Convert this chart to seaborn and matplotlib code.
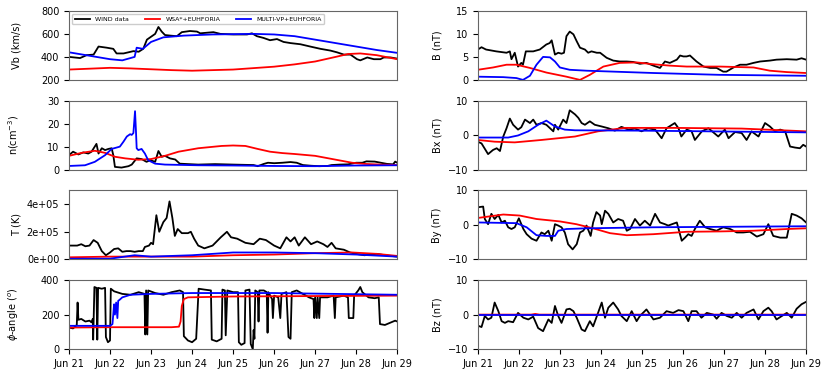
import numpy as np
import pandas as pd
import matplotlib
matplotlib.use("Agg")
import matplotlib.pyplot as plt
import matplotlib.dates as mdates
from matplotlib.ticker import FuncFormatter
import seaborn as sns

# --- DATA (t = days since Jun 21) ---
START = pd.Timestamp("2020-06-21")

# Vb (km/s)
vb_wind_t = [0, 0.27, 0.43, 0.6, 0.72, 0.92, 1.08, 1.16, 1.33, 1.45, 1.57, 1.7, 1.81, 1.9, 2.06, 2.1, 2.18,
             2.26, 2.34, 2.47, 2.63, 2.75, 2.95, 3.12, 3.2, 3.36, 3.52, 3.69, 4.01, 4.34, 4.46, 4.58, 4.74,
             4.9, 5.07, 5.23, 5.4, 5.64, 5.88, 6.13, 6.37, 6.53, 6.7, 6.86, 7.02, 7.1, 7.27, 7.43, 7.59,
             7.67, 7.84, 8.0]
vb_wind = [400, 390, 415, 420, 490, 480, 470, 430, 430, 440, 450, 445, 470, 550, 590, 600, 660,
           620, 590, 585, 580, 615, 625, 620, 605, 610, 615, 600, 595, 595, 605, 580, 565,
           545, 555, 530, 520, 510, 490, 470, 455, 440, 420, 420, 380, 370, 395, 380, 380,
           395, 395, 385]
vb_wsa_t = [0, 1.0, 1.5, 2.5, 3.0, 4.0, 5.0, 5.5, 6.0, 6.5, 6.8, 7.1, 7.5, 8.0]
vb_wsa = [290, 305, 300, 285, 280, 290, 315, 335, 360, 400, 425, 430, 415, 380]
vb_mvp_t = [0, 0.5, 1.0, 1.3, 1.6, 1.65, 1.8, 2.0, 2.3, 2.8, 3.5, 4.5, 5.0, 5.5, 6.0, 6.5, 7.0, 7.5, 8.0]
vb_mvp = [440, 410, 380, 370, 400, 480, 470, 530, 570, 585, 595, 600, 595, 580, 550, 520, 490, 460, 435]

# n (cm^-3)
n_wind_t = [0, 0.1, 0.23, 0.35, 0.47, 0.55, 0.67, 0.72, 0.8, 0.88, 0.96, 1.04, 1.08, 1.12, 1.28, 1.45,
            1.53, 1.65, 1.77, 1.89, 1.98, 2.1, 2.18, 2.26, 2.34, 2.46, 2.59, 2.7, 2.91, 3.15, 3.56, 4.0,
            4.5, 4.6, 4.75, 4.85, 5.0, 5.2, 5.4, 5.55, 5.7, 5.9, 6.1, 6.3, 6.4, 6.6, 6.8, 7.0, 7.15,
            7.25, 7.45, 7.6, 7.75, 7.9, 7.95, 8.0]
n_wind = [6.3, 7.8, 6.6, 7.5, 7.0, 7.8, 11.2, 7.0, 9.3, 8.5, 9.0, 9.3, 6.3, 1.2, 0.9, 1.5,
          2.2, 4.9, 4.6, 3.4, 4.1, 3.4, 8.1, 5.6, 6.0, 4.9, 4.4, 2.6, 2.4, 2.2, 2.4, 2.2,
          2.0, 1.5, 2.5, 3.0, 2.8, 3.0, 3.3, 3.0, 2.0, 1.7, 1.5, 1.6, 2.0, 2.2, 2.3, 3.0, 3.0,
          3.6, 3.5, 3.0, 2.5, 2.3, 3.5, 3.0]
n_wsa_t = [0, 0.31, 0.63, 0.88, 1.12, 1.37, 1.69, 2.0, 2.34, 2.67, 3.15, 3.72, 4.0, 4.3, 4.6, 4.9, 5.2,
           5.5, 6.0, 6.3, 6.6, 6.9, 7.2, 7.6, 8.0]
n_wsa = [6.0, 7.3, 8.2, 7.3, 5.6, 4.9, 4.3, 4.6, 6.0, 7.8, 9.3, 10.3, 10.5, 10.3, 9.0, 7.8, 7.2,
         6.8, 6.0, 5.0, 4.0, 3.0, 2.5, 2.2, 2.0]
n_mvp_t = [0, 0.39, 0.63, 0.88, 1.04, 1.16, 1.24, 1.33, 1.41, 1.49, 1.53, 1.57, 1.61, 1.633, 1.65,
           1.69, 1.77, 1.85, 1.93, 2.1, 2.34, 3.15, 4.0, 5.0, 6.0, 7.0, 8.0]
n_mvp = [1.6, 1.9, 3.4, 6.3, 9.0, 9.6, 10.0, 12.2, 14.4, 15.4, 15.1, 15.9, 25.4, 16.6, 9.3,
         8.5, 9.0, 7.0, 4.1, 2.6, 2.2, 1.9, 1.8, 1.6, 1.5, 1.8, 1.9]

# T (K)
T_wind_t = [0, 0.2, 0.3, 0.4, 0.5, 0.6, 0.7, 0.8, 0.9, 1.0, 1.1, 1.2, 1.3, 1.4, 1.5, 1.6, 1.7, 1.8,
            1.85, 1.95, 2.0, 2.05, 2.13, 2.2, 2.3, 2.38, 2.45, 2.52, 2.58, 2.65, 2.75, 2.9, 2.97,
            3.05, 3.15, 3.3, 3.5, 3.7, 3.85, 3.95, 4.1, 4.3, 4.5, 4.65, 4.8, 5.0, 5.15, 5.3, 5.4,
            5.5, 5.6, 5.75, 5.9, 6.05, 6.2, 6.3, 6.4, 6.5, 6.7, 6.85, 7.0, 7.2, 7.5, 7.7, 8.0]
T_wind = [1.0e5, 1.0e5, 1.1e5, 0.95e5, 1.0e5, 1.4e5, 1.2e5, 0.6e5, 0.3e5, 0.5e5, 0.75e5, 0.8e5,
          0.55e5, 0.6e5, 0.6e5, 0.55e5, 0.6e5, 0.6e5, 0.9e5, 1.0e5, 1.2e5, 1.1e5, 3.2e5, 2.0e5,
          2.7e5, 3.0e5, 4.2e5, 3.0e5, 1.7e5, 2.2e5, 1.9e5, 1.9e5, 2.0e5, 1.5e5, 1.0e5, 0.8e5,
          1.0e5, 1.6e5, 2.0e5, 1.6e5, 1.5e5, 1.2e5, 1.1e5, 1.5e5, 1.4e5, 1.0e5, 0.8e5, 1.6e5,
          1.3e5, 1.6e5, 1.0e5, 1.6e5, 1.1e5, 1.3e5, 1.1e5, 0.9e5, 1.2e5, 0.8e5, 0.7e5, 0.5e5,
          0.4e5, 0.3e5, 0.4e5, 0.3e5, 0.2e5]
T_wsa_t = [0, 1.0, 2.0, 3.0, 4.0, 5.0, 6.0, 6.9, 7.5, 8.0]
T_wsa = [0.15e5, 0.2e5, 0.2e5, 0.2e5, 0.3e5, 0.35e5, 0.45e5, 0.5e5, 0.4e5, 0.25e5]
T_mvp_t = [0, 1.0, 1.6, 2.0, 3.0, 4.0, 5.0, 6.0, 7.0, 8.0]
T_mvp = [0.05e5, 0.05e5, 0.3e5, 0.2e5, 0.3e5, 0.5e5, 0.5e5, 0.45e5, 0.35e5, 0.2e5]

# phi-angle (deg)
phi_wind_t = [0.0, 0.1, 0.19, 0.21, 0.23, 0.3, 0.4, 0.5, 0.55, 0.58, 0.59, 0.62, 0.67, 0.69, 0.71, 0.8,
              0.88, 0.9, 0.95, 1.0, 1.02, 1.1, 1.3, 1.5, 1.7, 1.84, 1.86, 1.88, 1.91, 1.93, 2.1, 2.3,
              2.5, 2.7, 2.78, 2.8, 2.9, 3.0, 3.1, 3.16, 3.3, 3.46, 3.48, 3.6, 3.72, 3.74, 3.8, 3.82,
              3.86, 4.0, 4.12, 4.14, 4.2, 4.28, 4.3, 4.4, 4.43, 4.48, 4.5, 4.52, 4.54, 4.6, 4.62,
              4.64, 4.75, 4.82, 4.84, 4.86, 4.95, 4.97, 5.0, 5.1, 5.15, 5.18, 5.3, 5.35, 5.4, 5.43,
              5.55, 5.7, 5.85, 5.96, 5.98, 6.0, 6.04, 6.06, 6.1, 6.12, 6.3, 6.45, 6.48, 6.5, 6.7,
              6.8, 6.82, 6.93, 6.95, 7.05, 7.1, 7.15, 7.3, 7.45, 7.55, 7.58, 7.7, 7.85, 7.95, 8.0]
phi_wind = [125, 120, 140, 270, 170, 175, 160, 165, 155, 175, 55, 360, 355, 55, 355, 350,
            355, 70, 40, 50, 350, 335, 320, 315, 330, 320, 85, 340, 85, 340, 325, 315,
            330, 340, 330, 75, 50, 40, 60, 350, 345, 340, 55, 45, 60, 345, 340, 80,
            340, 330, 330, 40, 25, 35, 340, 345, 30, 0, 110, 60, 340, 330, 160,
            340, 340, 330, 95, 330, 290, 180, 310, 300, 180, 320, 330, 70, 60, 330,
            340, 320, 300, 290, 180, 300, 180, 300, 180, 300, 300, 310, 180, 300, 310,
            300, 180, 180, 310, 340, 360, 330, 300, 295, 300, 145, 140, 155, 165, 160]
phi_wsa_t = [0, 1.0, 2.5, 2.68, 2.72, 2.75, 2.8, 2.9, 4.0, 8.0]
phi_wsa = [125, 127, 127, 130, 160, 250, 290, 300, 305, 310]
phi_mvp_t = [0, 1.0, 1.06, 1.1, 1.12, 1.15, 1.18, 1.2, 1.23, 1.3, 1.5, 2.0, 3.0, 5.0, 8.0]
phi_mvp = [135, 135, 145, 260, 200, 270, 180, 280, 285, 300, 315, 320, 325, 325, 315]

# B (nT)
B_wind_t = [0, 0.09, 0.2, 0.45, 0.7, 0.78, 0.82, 0.9, 0.98, 1.06, 1.1, 1.17, 1.35, 1.51, 1.67, 1.75,
            1.8, 1.88, 1.96, 2.04, 2.1, 2.16, 2.24, 2.33, 2.41, 2.49, 2.61, 2.69, 2.77, 2.9, 2.98,
            3.14, 3.3, 3.46, 3.63, 3.79, 3.95, 4.11, 4.28, 4.44, 4.56, 4.68, 4.85, 4.93, 5.01,
            5.09, 5.17, 5.33, 5.5, 5.66, 5.82, 5.98, 6.06, 6.23, 6.39, 6.55, 6.72, 6.88, 7.12,
            7.28, 7.53, 7.77, 7.89, 8.0]
B_wind = [6.6, 7.1, 6.6, 6.2, 5.9, 6.2, 4.5, 5.9, 2.9, 3.7, 3.3, 6.2, 6.2, 6.6, 7.7, 8.0,
          8.6, 5.5, 5.9, 5.7, 5.9, 9.5, 10.5, 9.9, 8.4, 7.0, 6.6, 5.9, 6.2, 5.9, 5.9,
          4.8, 4.2, 4.0, 4.0, 3.9, 3.5, 3.7, 3.1, 2.6, 4.0, 3.7, 4.4, 5.3, 5.1,
          5.1, 5.3, 4.0, 2.9, 2.6, 2.6, 1.8, 1.8, 2.7, 3.3, 3.3, 3.7, 4.0, 4.2,
          4.4, 4.5, 4.4, 4.7, 4.4]
B_wsa_t = [0, 0.37, 0.7, 0.94, 1.27, 1.67, 2.16, 2.49, 2.73, 3.06, 3.46, 3.87, 4.28, 4.68, 5.09,
           5.9, 6.72, 7.12, 7.53, 8.0]
B_wsa = [2.2, 2.7, 3.3, 3.3, 2.6, 1.6, 0.7, 0.0, 1.1, 2.9, 3.7, 3.8, 3.4, 3.1, 2.9,
         2.9, 2.7, 2.0, 1.7, 1.5]
B_mvp_t = [0, 0.62, 0.94, 1.1, 1.27, 1.43, 1.59, 1.76, 1.88, 2.0, 2.24, 2.65, 4.28, 5.9, 8.0]
B_mvp = [0.7, 0.6, 0.4, 0.0, 0.9, 3.3, 5.0, 4.9, 4.0, 2.7, 2.2, 2.0, 1.5, 1.1, 0.9]

# Bx (nT)
Bx_wind_t = [0, 0.09, 0.25, 0.37, 0.46, 0.54, 0.62, 0.7, 0.78, 0.86, 0.98, 1.06, 1.15, 1.27, 1.35,
             1.43, 1.55, 1.67, 1.84, 1.88, 1.96, 2.08, 2.16, 2.24, 2.37, 2.45, 2.53, 2.61, 2.73,
             2.85, 3.02, 3.18, 3.34, 3.5, 3.67, 3.83, 3.99, 4.15, 4.32, 4.48, 4.6, 4.8, 4.89, 4.96,
             5.09, 5.21, 5.29, 5.46, 5.62, 5.86, 6.02, 6.11, 6.27, 6.43, 6.55, 6.67, 6.84, 7.0,
             7.12, 7.24, 7.37, 7.49, 7.61, 7.73, 7.85, 7.93, 8.0]
Bx_wind = [-1.9, -2.4, -5.5, -4.3, -3.8, -4.6, -0.4, 2.0, 4.8, 3.0, 1.6, 2.3, 4.5, 3.5, 4.5,
           3.0, 3.5, 3.0, 1.1, 3.0, 1.6, 4.5, 3.5, 7.2, 6.0, 5.0, 3.5, 3.0, 4.0,
           3.0, 2.5, 2.0, 1.3, 2.4, 1.6, 1.9, 1.1, 2.0, 1.6, -0.9, 2.0, 3.5, 2.0, -0.4,
           1.6, 1.1, -1.4, 1.1, 2.0, -0.4, 1.6, -0.9, 0.9, 0.6, -1.4, 1.1, -0.4, 3.5,
           2.5, 1.1, 1.6, 1.1, -3.3, -3.6, -3.8, -2.8, -3.3]
Bx_wsa_t = [0, 0.41, 0.9, 1.55, 2.37, 2.93, 3.59, 4.8, 6.43, 8.0]
Bx_wsa = [-1.4, -1.9, -2.1, -1.4, -0.4, 1.1, 2.1, 2.1, 1.9, 1.1]
Bx_mvp_t = [0, 0.74, 0.98, 1.23, 1.47, 1.67, 1.88, 2.12, 2.37, 4.0, 8.0]
Bx_mvp = [-0.7, -0.7, -0.1, 1.1, 3.0, 4.2, 2.5, 1.6, 1.4, 1.3, 0.8]

# By (nT)
By_wind_t = [0, 0.13, 0.17, 0.25, 0.33, 0.41, 0.5, 0.58, 0.66, 0.74, 0.82, 0.9, 1.0, 1.11, 1.19,
             1.31, 1.43, 1.55, 1.63, 1.72, 1.8, 1.88, 1.96, 2.04, 2.12, 2.2, 2.31, 2.41, 2.49,
             2.57, 2.65, 2.75, 2.81, 2.89, 2.98, 3.02, 3.1, 3.18, 3.3, 3.42, 3.54, 3.63, 3.71,
             3.83, 3.95, 4.07, 4.2, 4.32, 4.44, 4.56, 4.64, 4.85, 4.97, 5.05, 5.13, 5.21, 5.29,
             5.41, 5.54, 5.66, 5.82, 5.98, 6.15, 6.31, 6.47, 6.63, 6.8, 6.96, 7.08, 7.2, 7.37,
             7.53, 7.65, 7.77, 7.89, 8.0]
By_wind = [5.1, 5.3, 1.7, 0.2, 3.2, 1.7, 2.9, 0.7, 1.2, -0.7, -1.2, -0.7, 1.9, -1.2, -2.7,
           -4.0, -4.6, -2.2, -2.7, -1.7, -4.6, 0.2, -0.2, -0.7, -2.2, -5.6, -7.1, -5.6, -2.2,
           -1.7, -0.2, -3.2, 0.7, 3.7, 2.7, 0.2, 4.1, 3.2, 0.7, 1.7, 1.2, -1.7, -1.2,
           1.7, -0.2, 1.2, -0.2, 3.2, 0.7, 0.2, -0.2, 0.7, -4.6, -3.7, -2.7, -3.2, -1.2,
           1.2, -0.7, -1.2, -1.7, -0.7, -1.2, -2.2, -2.2, -2.0, -3.4, -2.7, 0.2, -3.2, -3.7,
           -3.7, 3.2, 2.7, 1.9, 0.7]
By_wsa_t = [0, 0.62, 1.02, 1.43, 2.0, 2.4, 2.81, 3.22, 3.63, 4.28, 5.09, 5.9, 6.72, 7.53, 8.0]
By_wsa = [2.0, 3.0, 2.7, 1.7, 1.0, 0.2, -1.0, -2.4, -3.0, -2.7, -2.0, -1.9, -1.7, -1.2, -1.0]
By_mvp_t = [0, 0.94, 1.19, 1.43, 1.67, 1.88, 1.96, 2.16, 2.65, 4.28, 8.0]
By_mvp = [0.7, 0.5, -0.7, -3.0, -3.2, -3.2, -1.7, -1.2, -1.0, -0.7, -0.4]

# Bz (nT)
Bz_wind_t = [0, 0.09, 0.17, 0.25, 0.33, 0.41, 0.5, 0.58, 0.66, 0.74, 0.86, 0.98, 1.11, 1.23, 1.35,
             1.47, 1.59, 1.72, 1.8, 1.88, 1.96, 2.04, 2.16, 2.24, 2.33, 2.41, 2.53, 2.61, 2.73,
             2.81, 2.93, 3.02, 3.1, 3.18, 3.3, 3.42, 3.5, 3.63, 3.75, 3.87, 3.95, 4.11, 4.28,
             4.44, 4.6, 4.76, 4.89, 5.01, 5.13, 5.21, 5.33, 5.45, 5.58, 5.74, 5.82, 5.94, 6.07,
             6.19, 6.31, 6.43, 6.55, 6.72, 6.84, 6.96, 7.08, 7.16, 7.28, 7.41, 7.53, 7.65, 7.77,
             7.89, 8.0]
Bz_wind = [-3.2, -3.6, -0.4, -1.4, -0.9, 3.5, 1.0, -1.9, -2.4, -1.9, -2.2, 0.5, -0.9, -1.4, -0.6,
           -3.9, -4.8, -1.4, -2.4, 2.5, -0.4, -2.4, 1.5, 1.7, 1.0, -0.9, -4.3, -4.8, -1.9,
           -3.4, 0.5, 3.5, -0.9, 2.0, 3.5, 1.5, -0.4, -1.9, 1.0, -1.9, -0.4, 1.5, -1.4,
           -0.9, 1.0, 0.5, 1.3, 1.0, -1.9, 1.0, 1.0, -0.9, 0.5, 0.0, -1.2, 0.5, -0.4,
           -0.9, 0.5, -0.9, 0.5, 1.5, -1.4, 1.0, 2.0, 1.0, -1.4, -0.4, 0.5, -0.9, 1.7,
           3.0, 3.7]
Bz_wsa_t = [0, 1.3, 1.4, 1.5, 8.0]
Bz_wsa = [0.0, 0.0, 0.2, 0.0, 0.0]
Bz_mvp_t = [0, 8.0]
Bz_mvp = [0.0, 0.0]

LABELS = ["WIND data", "WSA*+EUHFORIA", "MULTI-VP+EUHFORIA"]
COLORS = ["black", "red", "blue"]


def to_dates(t):
    return START + pd.to_timedelta(np.asarray(t, dtype=float), unit="D")


def draw(ax, series):
    for (t, y), lab, col in zip(series, LABELS, COLORS):
        df = pd.DataFrame({"time": to_dates(t), "val": y})
        sns.lineplot(data=df, x="time", y="val", ax=ax, color=col, lw=1.3,
                     label=lab, estimator=None, legend=False)


panels_left = [
    ([(vb_wind_t, vb_wind), (vb_wsa_t, vb_wsa), (vb_mvp_t, vb_mvp)], "Vb (km/s)", (200, 800), [200, 400, 600, 800]),
    ([(n_wind_t, n_wind), (n_wsa_t, n_wsa), (n_mvp_t, n_mvp)], "n(cm$^{-3}$)", (0, 30), [0, 10, 20, 30]),
    ([(T_wind_t, T_wind), (T_wsa_t, T_wsa), (T_mvp_t, T_mvp)], "T (K)", (0, 5e5), [0, 2e5, 4e5]),
    ([(phi_wind_t, phi_wind), (phi_wsa_t, phi_wsa), (phi_mvp_t, phi_mvp)], r"$\phi$-angle ($^o$)", (0, 400), [0, 200, 400]),
]
panels_right = [
    ([(B_wind_t, B_wind), (B_wsa_t, B_wsa), (B_mvp_t, B_mvp)], "B (nT)", (0, 15), [0, 5, 10, 15]),
    ([(Bx_wind_t, Bx_wind), (Bx_wsa_t, Bx_wsa), (Bx_mvp_t, Bx_mvp)], "Bx (nT)", (-10, 10), [-10, 0, 10]),
    ([(By_wind_t, By_wind), (By_wsa_t, By_wsa), (By_mvp_t, By_mvp)], "By (nT)", (-10, 10), [-10, 0, 10]),
    ([(Bz_wind_t, Bz_wind), (Bz_wsa_t, Bz_wsa), (Bz_mvp_t, Bz_mvp)], "Bz (nT)", (-10, 10), [-10, 0, 10]),
]

plt.rcParams["axes.edgecolor"] = "0.4"
plt.rcParams["xtick.labelsize"] = 7
plt.rcParams["ytick.labelsize"] = 7

fig = plt.figure(figsize=(8.31, 3.75), dpi=100)
gl = fig.add_gridspec(4, 1, left=0.083, right=0.478, bottom=0.069, top=0.971, hspace=0.3)
gr = fig.add_gridspec(4, 1, left=0.575, right=0.970, bottom=0.069, top=0.971, hspace=0.3)

x0, x1 = START, START + pd.Timedelta(days=8)
columns = []
for grid, panels in [(gl, panels_left), (gr, panels_right)]:
    col_axes = []
    for i, (series, ylab, ylim, yticks) in enumerate(panels):
        ax = fig.add_subplot(grid[i])
        draw(ax, series)
        ax.set_xlim(x0, x1)
        ax.set_ylim(*ylim)
        ax.set_yticks(yticks)
        ax.set_ylabel(ylab, fontsize=7)
        ax.set_xlabel("")
        ax.xaxis.set_major_locator(mdates.DayLocator())
        ax.xaxis.set_major_formatter(mdates.DateFormatter("%b %d"))
        if i < 3:
            ax.set_xticklabels([])
            ax.tick_params(axis="x", length=0)
        if ylab == "T (K)":
            ax.yaxis.set_major_formatter(FuncFormatter(lambda v, p: "{:.0e}".format(v)))
        if grid is gl and i == 0:
            ax.legend(loc="upper left", ncol=3, fontsize=4.5, handlelength=2.5,
                      borderpad=0.4, columnspacing=2.5, framealpha=1)
        col_axes.append(ax)
    columns.append(col_axes)

# align labels within each column separately
for col_axes in columns:
    fig.align_ylabels(col_axes)
plt.savefig("out.png", dpi=100)
